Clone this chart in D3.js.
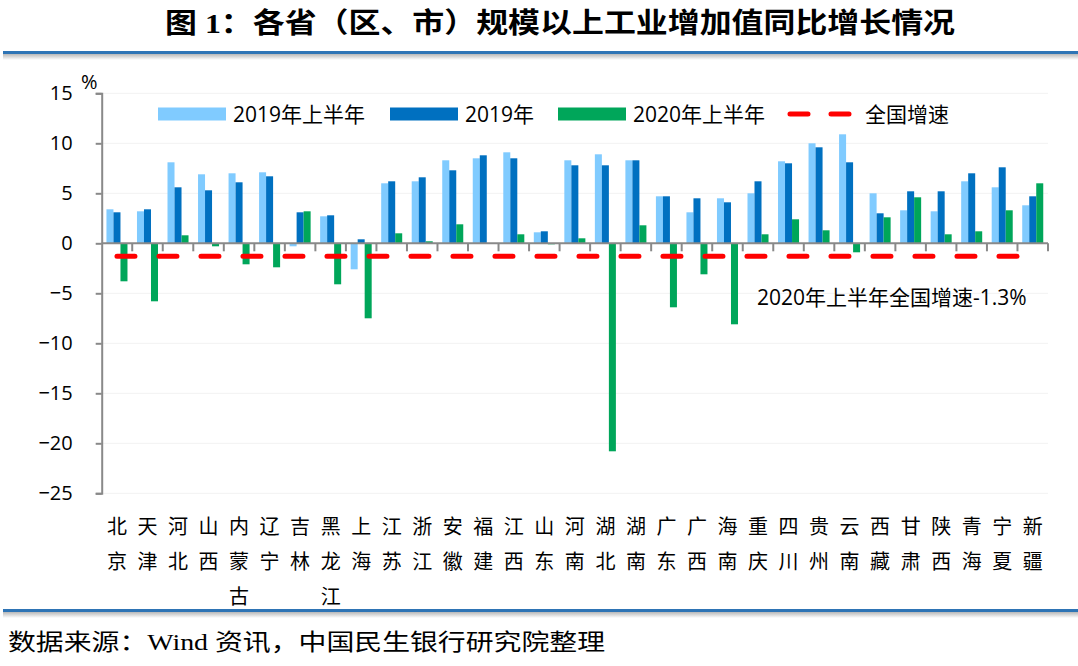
<!DOCTYPE html>
<html>
<head>
<meta charset="utf-8">
<script src="https://cdn.jsdelivr.net/npm/d3@7"></script>
<style>
  body { margin: 0; background: #fff; }
  text { font-family: "Open Sans", "Noto Sans CJK SC", sans-serif; }
</style>
</head>
<body>
<div id="chart"></div>
<script>
// provinces and the three bar series (%, yoy), national speed
var provinces = ["北京","天津","河北","山西","内蒙古","辽宁","吉林","黑龙江","上海","江苏","浙江","安徽","福建","江西","山东","河南","湖北","湖南","广东","广西","海南","重庆","四川","贵州","云南","西藏","甘肃","陕西","青海","宁夏","新疆"];
var h1_2019 = [3.4,3.2,8.1,6.9,7.0,7.1,-0.3,2.7,-2.6,6.0,6.2,8.3,8.5,9.1,1.1,8.3,8.9,8.3,4.7,3.1,4.5,5.0,8.2,10.0,10.9,5.0,3.3,3.2,6.2,5.6,3.8];
var y_2019  = [3.1,3.4,5.6,5.3,6.1,6.7,3.1,2.8,0.4,6.2,6.6,7.3,8.8,8.5,1.2,7.8,7.8,8.3,4.7,4.5,4.1,6.2,8.0,9.6,8.1,3.0,5.2,5.2,7.0,7.6,4.7];
var h1_2020 = [-3.8,-5.8,0.8,-0.3,-2.1,-2.4,3.2,-4.1,-7.5,1.0,0.2,1.9,0.0,0.9,-0.1,0.5,-20.8,1.8,-6.4,-3.1,-8.1,0.9,2.4,1.3,-0.9,2.6,4.6,0.9,1.2,3.3,6.0];
var national = -1.3;
var seriesNames = ["2019年上半年","2019年","2020年上半年"];
var yTicks = [15,10,5,0,-5,-10,-15,-20,-25];

var width = 1078, height = 666;
var colors = ["#80CBFF","#0070C0","#00A65A"];

var svg = d3.select("#chart").append("svg")
    .attr("width", width).attr("height", height);

svg.append("rect").attr("width", width).attr("height", height).attr("fill", "#fff");

// title + rules
svg.append("text")
    .attr("x", 165).attr("y", 33)
    .attr("textLength", 790).attr("lengthAdjust", "spacingAndGlyphs")
    .style("font-family", "'Liberation Serif','Noto Sans CJK SC',serif")
    .style("font-weight", "bold").style("font-size", "28px")
    .text("图 1：各省（区、市）规模以上工业增加值同比增长情况");

var defs = svg.append("defs");
var grad = defs.append("linearGradient").attr("id", "shade")
    .attr("x1", 0).attr("y1", 0).attr("x2", 0).attr("y2", 1);
grad.append("stop").attr("offset", "0%").attr("stop-color", "#b8b8b8");
grad.append("stop").attr("offset", "100%").attr("stop-color", "#ffffff");

[51, 609].forEach(function(yy) {
  svg.append("rect").attr("x", 3).attr("y", yy).attr("width", width - 3).attr("height", 3)
      .attr("fill", "#2E74B5");
  svg.append("rect").attr("x", 3).attr("y", yy + 3).attr("width", width - 3).attr("height", 6)
      .attr("fill", "url(#shade)");
});

svg.append("text")
    .attr("x", 8).attr("y", 650)
    .attr("textLength", 597).attr("lengthAdjust", "spacingAndGlyphs")
    .style("font-family", "'Liberation Serif','Noto Sans CJK SC',serif")
    .style("font-size", "23px")
    .text("数据来源：Wind 资讯，中国民生银行研究院整理");

// scales
var x = d3.scaleBand().domain(provinces).range([101.7, 1048]).paddingInner(0);
var x1 = d3.scaleBand().domain(seriesNames).range([4.75, x.bandwidth() - 4.75]);
var y = d3.scaleLinear().domain([-25, 15]).range([493.3, 93.3]);

// grid
svg.append("g").selectAll("line").data(yTicks.filter(function(d){ return d !== 0; }))
  .enter().append("line")
    .attr("x1", 102).attr("x2", 1048)
    .attr("y1", function(d){ return y(d); }).attr("y2", function(d){ return y(d); })
    .attr("stroke", "#F2F2F2").attr("stroke-width", 1);

// bars
var table = provinces.map(function(p, i) {
  return [h1_2019[i], y_2019[i], h1_2020[i]].map(function(v, k) {
    return {p: p, s: seriesNames[k], v: v, k: k};
  });
});
var groups = svg.append("g").selectAll("g").data(table).enter().append("g")
    .attr("transform", function(d, i){ return "translate(" + x(provinces[i]) + ",0)"; });
groups.selectAll("rect").data(function(d){ return d; }).enter().append("rect")
    .attr("x", function(d){ return x1(d.s); })
    .attr("width", x1.bandwidth())
    .attr("y", function(d){ return y(Math.max(0, d.v)); })
    .attr("height", function(d){ return Math.abs(y(d.v) - y(0)); })
    .attr("fill", function(d){ return colors[d.k]; });

// y axis
var yAxis = d3.axisLeft(y).tickValues(yTicks).tickSize(6).tickPadding(23);
var gy = svg.append("g").attr("transform", "translate(101.7,0)").call(yAxis);
gy.select(".domain").attr("stroke", "#898989").attr("stroke-width", 2);
gy.selectAll(".tick line").attr("stroke", "#898989").attr("stroke-width", 2);
gy.selectAll(".tick text").style("font-size", "20px").attr("fill", "#000")
    .style("font-family", "'Open Sans','Noto Sans CJK SC',sans-serif");

svg.append("text").attr("x", 81).attr("y", 89).style("font-size", "20px").text("%");

// x axis at zero
svg.append("line").attr("x1", 101.7).attr("x2", 1048).attr("y1", y(0)).attr("y2", y(0))
    .attr("stroke", "#898989").attr("stroke-width", 2);
svg.append("g").selectAll("line").data(provinces).enter().append("line")
    .attr("x1", function(d){ return x(d) + x.bandwidth(); })
    .attr("x2", function(d){ return x(d) + x.bandwidth(); })
    .attr("y1", y(0)).attr("y2", y(0) + 8)
    .attr("stroke", "#898989").attr("stroke-width", 2);

// category labels, vertical
var lab = svg.append("g").selectAll("text").data(provinces).enter().append("text")
    .attr("text-anchor", "middle")
    .style("font-family", "'Noto Sans CJK SC',sans-serif")
    .style("font-size", "20px");
lab.each(function(d) {
  var t = d3.select(this);
  d.split("").forEach(function(ch, k) {
    t.append("tspan")
        .attr("x", x(d) + x.bandwidth() / 2)
        .attr("y", 534 + k * 35)
        .text(ch);
  });
});

// national line
svg.append("line")
    .attr("x1", x(provinces[0]) + x.bandwidth() / 2)
    .attr("x2", x(provinces[provinces.length - 1]) + x.bandwidth() / 2)
    .attr("y1", y(national)).attr("y2", y(national))
    .attr("stroke", "#FF0000").attr("stroke-width", 5)
    .attr("stroke-linecap", "round").attr("stroke-dasharray", "18,24");

svg.append("text").attr("x", 757).attr("y", 305).style("font-size", "21px")
    .text("2020年上半年全国增速" + national + "%");

// legend
var legendX = [158, 390, 558];
seriesNames.forEach(function(s, k) {
  svg.append("rect").attr("x", legendX[k]).attr("y", 107.5).attr("width", 68).attr("height", 13)
      .attr("fill", colors[k]);
  svg.append("text").attr("x", legendX[k] + 75).attr("y", 121.5).style("font-size", "21px").text(s);
});
svg.append("line").attr("x1", 790).attr("x2", 852).attr("y1", 114).attr("y2", 114)
    .attr("stroke", "#FF0000").attr("stroke-width", 5).attr("stroke-linecap", "round")
    .attr("stroke-dasharray", "18,23");
svg.append("text").attr("x", 865).attr("y", 121.5).style("font-size", "21px").text("全国增速");
</script>
</body>
</html>
